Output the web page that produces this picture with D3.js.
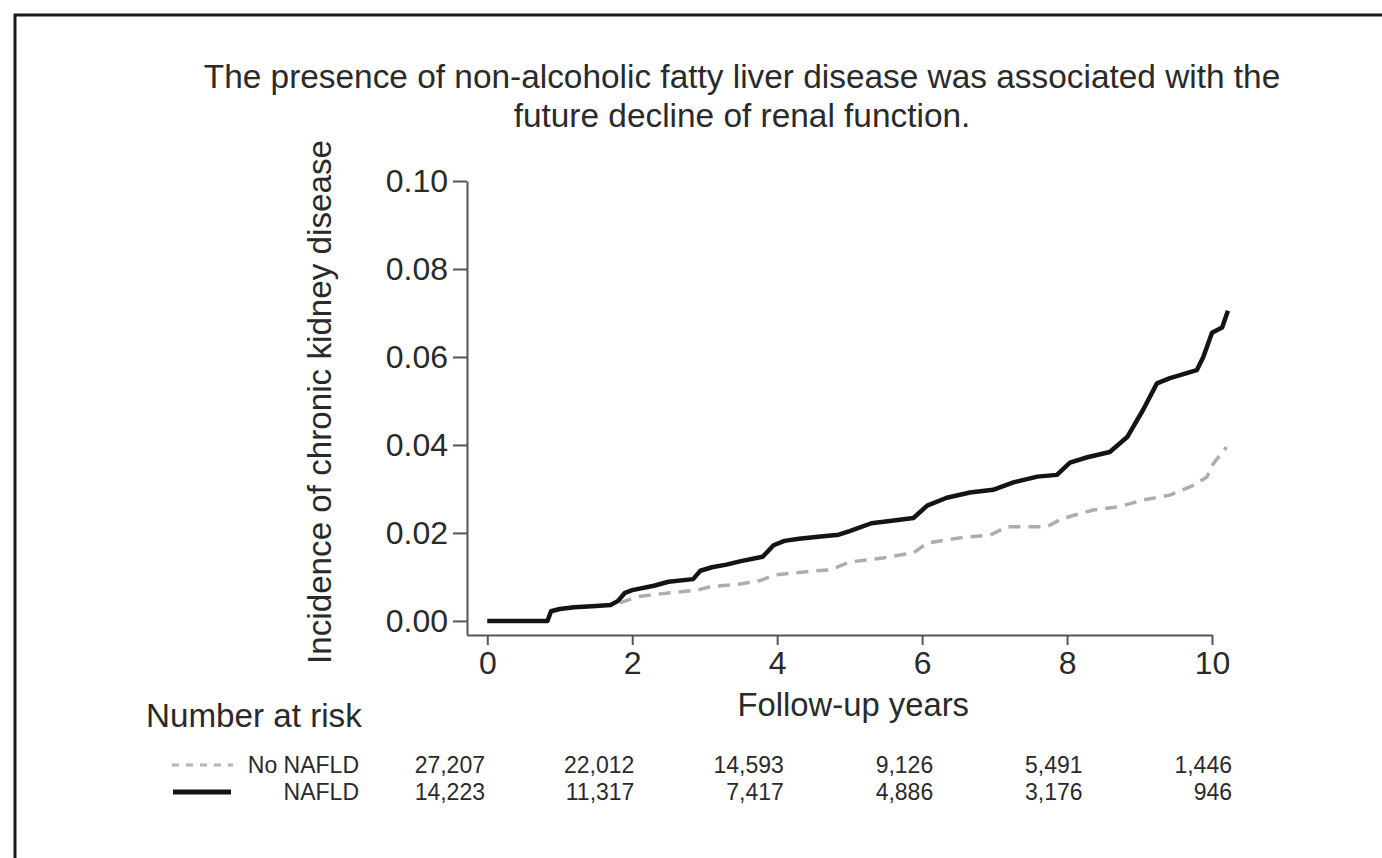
<!DOCTYPE html>
<html>
<head>
<meta charset="utf-8">
<script src="https://cdn.jsdelivr.net/npm/d3@7"></script>
<style>
  body { margin: 0; background: #fff; }
  svg { display: block; font-family: "Liberation Sans", Arial, sans-serif; }
</style>
</head>
<body>
<svg id="viz" width="1382" height="858"></svg>
<script>
// Cumulative incidence: [year, incidence]
let nafld = [[0,0],[0.83,0],[0.88,0.0022],[1.0,0.0027],[1.2,0.0031],[1.5,0.0034],[1.7,0.0036],
	[1.8,0.0045],[1.9,0.0064],[2.0,0.007],[2.3,0.008],[2.5,0.0089],[2.84,0.0095],[2.94,0.0114],
	[3.1,0.0122],[3.3,0.0128],[3.5,0.0136],[3.8,0.0146],[3.95,0.0172],[4.1,0.0182],[4.3,0.0187],
	[4.6,0.0192],[4.85,0.0196],[5.0,0.0204],[5.3,0.0222],[5.5,0.0226],[5.88,0.0234],[6.07,0.0262],
	[6.34,0.028],[6.66,0.0292],[6.98,0.0298],[7.26,0.0315],[7.59,0.0328],[7.86,0.0332],[8.04,0.036],
	[8.28,0.0372],[8.59,0.0384],[8.83,0.0418],[9.05,0.048],[9.24,0.054],[9.42,0.0552],[9.79,0.057],
	[9.88,0.06],[10.0,0.0655],[10.14,0.0667],[10.22,0.0705]];

// mostly hidden under the NAFLD line before year 2
let noNafld = [[0,0],[0.83,0],[0.88,0.0022],[1.0,0.0027],[1.2,0.0031],[1.5,0.0034],[1.7,0.0036],
	[1.85,0.0042],[2.07,0.0055],
	[2.52,0.0064],[2.9,0.007],[3.08,0.0078],[3.49,0.0084],[3.77,0.0092],[3.95,0.0104],[4.46,0.0113],
	[4.73,0.0116],[5.0,0.0134],[5.46,0.0143],[5.56,0.0146],[5.88,0.0155],[6.07,0.0177],[6.57,0.019],
	[6.94,0.0195],[7.17,0.0214],[7.72,0.0214],[7.94,0.0233],[8.36,0.0252],[8.73,0.026],[9.05,0.0275],
	[9.42,0.0286],[9.74,0.0308],[9.93,0.0327],[10.02,0.0358],[10.2,0.0395]];

let xTicks = [0, 2, 4, 6, 8, 10];
let yTicks = [0, 0.02, 0.04, 0.06, 0.08, 0.10];

// Number at risk table
let riskYears = [0, 2, 4, 6, 8, 10];
let riskNo = ["27,207", "22,012", "14,593", "9,126", "5,491", "1,446"];
let riskYes = ["14,223", "11,317", "7,417", "4,886", "3,176", "946"];
let groups = ["No NAFLD", "NAFLD"];

let titleLines = ["The presence of non-alcoholic fatty liver disease was associated with the",
	"future decline of renal function."];

function app() {
	let svg = d3.select('#viz');
	let ink = '#2a2a2a';

	// frame (top and left edges only)
	svg.append('path')
		.attr('d', 'M15,858V15H1382')
		.attr('fill', 'none')
		.attr('stroke', '#1a1a1a')
		.attr('stroke-width', 3);

	// axes start a little before 0 like the original plot
	let x = d3.scaleLinear().domain([-0.28, 10]).range([467, 1212]);
	let y = d3.scaleLinear().domain([-0.0032, 0.10]).range([635, 181]);

	svg.selectAll('text.title')
		.data(titleLines)
		.enter()
		.append('text')
		.attr('class', 'title')
		.attr('x', 742)
		.attr('y', (d, i) => 88 + i * 39)
		.attr('text-anchor', 'middle')
		.attr('font-size', 33.4)
		.attr('fill', ink)
		.text(d => d);

	let yAxis = svg.append('g')
		.attr('transform', 'translate(467,0)')
		.call(d3.axisLeft(y).tickValues(yTicks).tickFormat(d3.format('.2f'))
			.tickSize(14).tickSizeOuter(0).tickPadding(5));

	let xAxis = svg.append('g')
		.attr('transform', 'translate(0,635)')
		.call(d3.axisBottom(x).tickValues(xTicks).tickFormat(d3.format('d'))
			.tickSize(10).tickSizeOuter(0).tickPadding(6));

	[xAxis, yAxis].forEach(a => {
		a.selectAll('path, line').attr('stroke', '#555').attr('stroke-width', 2);
		a.selectAll('text').attr('font-size', 32).attr('fill', ink)
			.attr('font-family', '"Liberation Sans", Arial, sans-serif');
	});

	svg.append('text')
		.attr('transform', 'translate(331,402) rotate(-90)')
		.attr('text-anchor', 'middle')
		.attr('font-size', 33.2)
		.attr('fill', ink)
		.text('Incidence of chronic kidney disease');

	svg.append('text')
		.attr('x', x(5.05))
		.attr('y', 716)
		.attr('text-anchor', 'middle')
		.attr('font-size', 32.8)
		.attr('fill', ink)
		.text('Follow-up years');

	let line = d3.line()
		.x(d => x(d[0]))
		.y(d => y(d[1]));

	svg.append('path')
		.datum(noNafld)
		.attr('d', line)
		.attr('fill', 'none')
		.attr('stroke', '#adadad')
		.attr('stroke-width', 3.5)
		.attr('stroke-dasharray', '12,8');

	svg.append('path')
		.datum(nafld)
		.attr('d', line)
		.attr('fill', 'none')
		.attr('stroke', '#141414')
		.attr('stroke-width', 4.5)
		.attr('stroke-linejoin', 'round');

	addRiskTable(svg, ink);
}

function addRiskTable(svg, ink){
	let col = d3.scaleLinear().domain([0, 10]).range([485, 1232]);
	let rowY = [773, 800];

	svg.append('text')
		.attr('x', 146)
		.attr('y', 727)
		.attr('font-size', 33.2)
		.attr('fill', ink)
		.text('Number at risk');

	// legend keys
	svg.append('line')
		.attr('x1', 172).attr('x2', 233)
		.attr('y1', rowY[0] - 8).attr('y2', rowY[0] - 8)
		.attr('stroke', '#b5b5b5').attr('stroke-width', 3)
		.attr('stroke-dasharray', '7,7');
	svg.append('line')
		.attr('x1', 173).attr('x2', 231)
		.attr('y1', rowY[1] - 8).attr('y2', rowY[1] - 8)
		.attr('stroke', '#141414').attr('stroke-width', 5);

	svg.selectAll('text.group')
		.data(groups)
		.enter()
		.append('text')
		.attr('class', 'group')
		.attr('x', 359)
		.attr('y', (d, i) => rowY[i])
		.attr('text-anchor', 'end')
		.attr('font-size', 23)
		.attr('fill', ink)
		.text(d => d);

	[riskNo, riskYes].forEach((row, r) => {
		svg.selectAll('text.risk' + r)
			.data(row)
			.enter()
			.append('text')
			.attr('class', 'risk' + r)
			.attr('x', (d, i) => col(riskYears[i]))
			.attr('y', rowY[r])
			.attr('text-anchor', 'end')
			.attr('font-size', 23)
			.attr('fill', ink)
			.text(d => d);
	});
}

app();
</script>
</body>
</html>
